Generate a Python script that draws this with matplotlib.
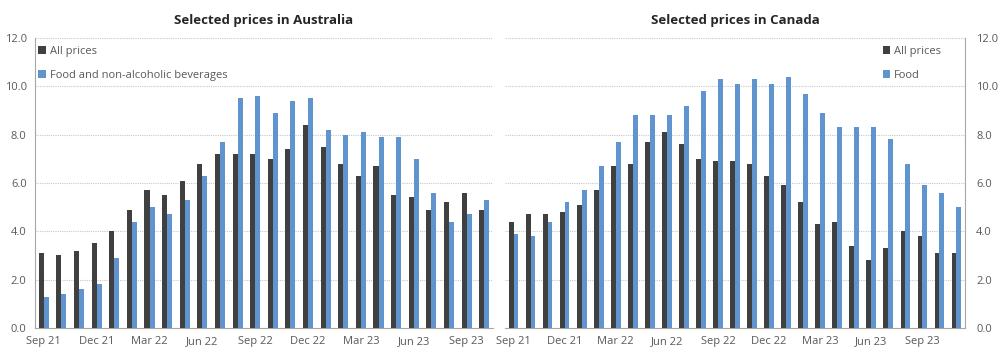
import matplotlib
matplotlib.use("Agg")
import numpy as np
import matplotlib.pyplot as plt

plt.rcParams["font.family"] = ["Open Sans", "DejaVu Sans"]

# ── Data ──────────────────────────────────────────────────────────────────────
au_months = ["Sep 21", "Oct 21", "Nov 21", "Dec 21", "Jan 22", "Feb 22", "Mar 22",
             "Apr 22", "May 22", "Jun 22", "Jul 22", "Aug 22", "Sep 22", "Oct 22",
             "Nov 22", "Dec 22", "Jan 23", "Feb 23", "Mar 23", "Apr 23", "May 23",
             "Jun 23", "Jul 23", "Aug 23", "Sep 23", "Oct 23"]
au_all = [3.1, 3.0, 3.2, 3.5, 4.0, 4.9, 5.7, 5.5, 6.1, 6.8, 7.2, 7.2, 7.2, 7.0,
          7.4, 8.4, 7.5, 6.8, 6.3, 6.7, 5.5, 5.4, 4.9, 5.2, 5.6, 4.9]
au_food = [1.3, 1.4, 1.6, 1.8, 2.9, 4.4, 5.0, 4.7, 5.3, 6.3, 7.7, 9.5, 9.6, 8.9,
           9.4, 9.5, 8.2, 8.0, 8.1, 7.9, 7.9, 7.0, 5.6, 4.4, 4.7, 5.3]

ca_months = au_months + ["Nov 23"]
ca_all = [4.4, 4.7, 4.7, 4.8, 5.1, 5.7, 6.7, 6.8, 7.7, 8.1, 7.6, 7.0, 6.9, 6.9,
          6.8, 6.3, 5.9, 5.2, 4.3, 4.4, 3.4, 2.8, 3.3, 4.0, 3.8, 3.1, 3.1]
ca_food = [3.9, 3.8, 4.4, 5.2, 5.7, 6.7, 7.7, 8.8, 8.8, 8.8, 9.2, 9.8, 10.3, 10.1,
           10.3, 10.1, 10.4, 9.7, 8.9, 8.3, 8.3, 8.3, 7.8, 6.8, 5.9, 5.6, 5.0]

yticks = [0, 2, 4, 6, 8, 10, 12]

DARK = "#404040"
BLUE = "#5f94cf"
TXT = "#595959"

fig = plt.figure(figsize=(10, 3.59), dpi=100)
ax1 = fig.add_axes([0.035, 0.0864, 0.458, 0.808])
ax2 = fig.add_axes([0.505, 0.0864, 0.460, 0.808])


def draw(ax, months, allp, food, food_label, title, right=False,
         legend_loc="upper left", anchor=(0, 1)):
    x = np.arange(len(months))
    w = 0.285
    ax.bar(x - w / 2, allp, w, color=DARK, label="All prices", zorder=3)
    ax.bar(x + w / 2, food, w, color=BLUE, label=food_label, zorder=3)
    ax.set_xlim(-0.5, len(months) - 0.5)
    ax.set_ylim(0, 12)
    ax.set_yticks(yticks)
    ax.set_yticklabels([f"{v:.1f}" for v in yticks])
    ax.set_xticks(x[::3])
    ax.set_xticklabels(months[::3])
    ax.grid(axis="y", linestyle=(0, (1, 1)), color="#c8c8c8", lw=0.8, zorder=0)
    ax.tick_params(length=0, labelsize=8, colors=TXT, pad=6)
    for s in ax.spines.values():
        s.set_visible(False)
    ax.spines["bottom"].set_visible(True)
    ax.spines["bottom"].set_color("#a6a6a6")
    side = "right" if right else "left"
    ax.spines[side].set_visible(True)
    ax.spines[side].set_color("#a6a6a6")
    if right:
        ax.yaxis.tick_right()
        ax.tick_params(axis="y", pad=8)
    else:
        ax.tick_params(axis="y", pad=6)
    ax.set_title(title, fontsize=9.5, fontweight="bold", color="#262626", pad=10)
    leg = ax.legend(loc=legend_loc, bbox_to_anchor=anchor, frameon=False,
                    fontsize=8, labelspacing=1.2, handlelength=0.7,
                    handleheight=0.7, handletextpad=0.35, borderaxespad=0)
    for t in leg.get_texts():
        t.set_color(TXT)


draw(ax1, au_months, au_all, au_food, "Food and non-alcoholic beverages",
     "Selected prices in Australia", anchor=(-0.003, 0.989))
draw(ax2, ca_months, ca_all, ca_food, "Food", "Selected prices in Canada",
     right=True, legend_loc="upper right", anchor=(0.958, 0.989))

fig.savefig("out.png", dpi=100)
